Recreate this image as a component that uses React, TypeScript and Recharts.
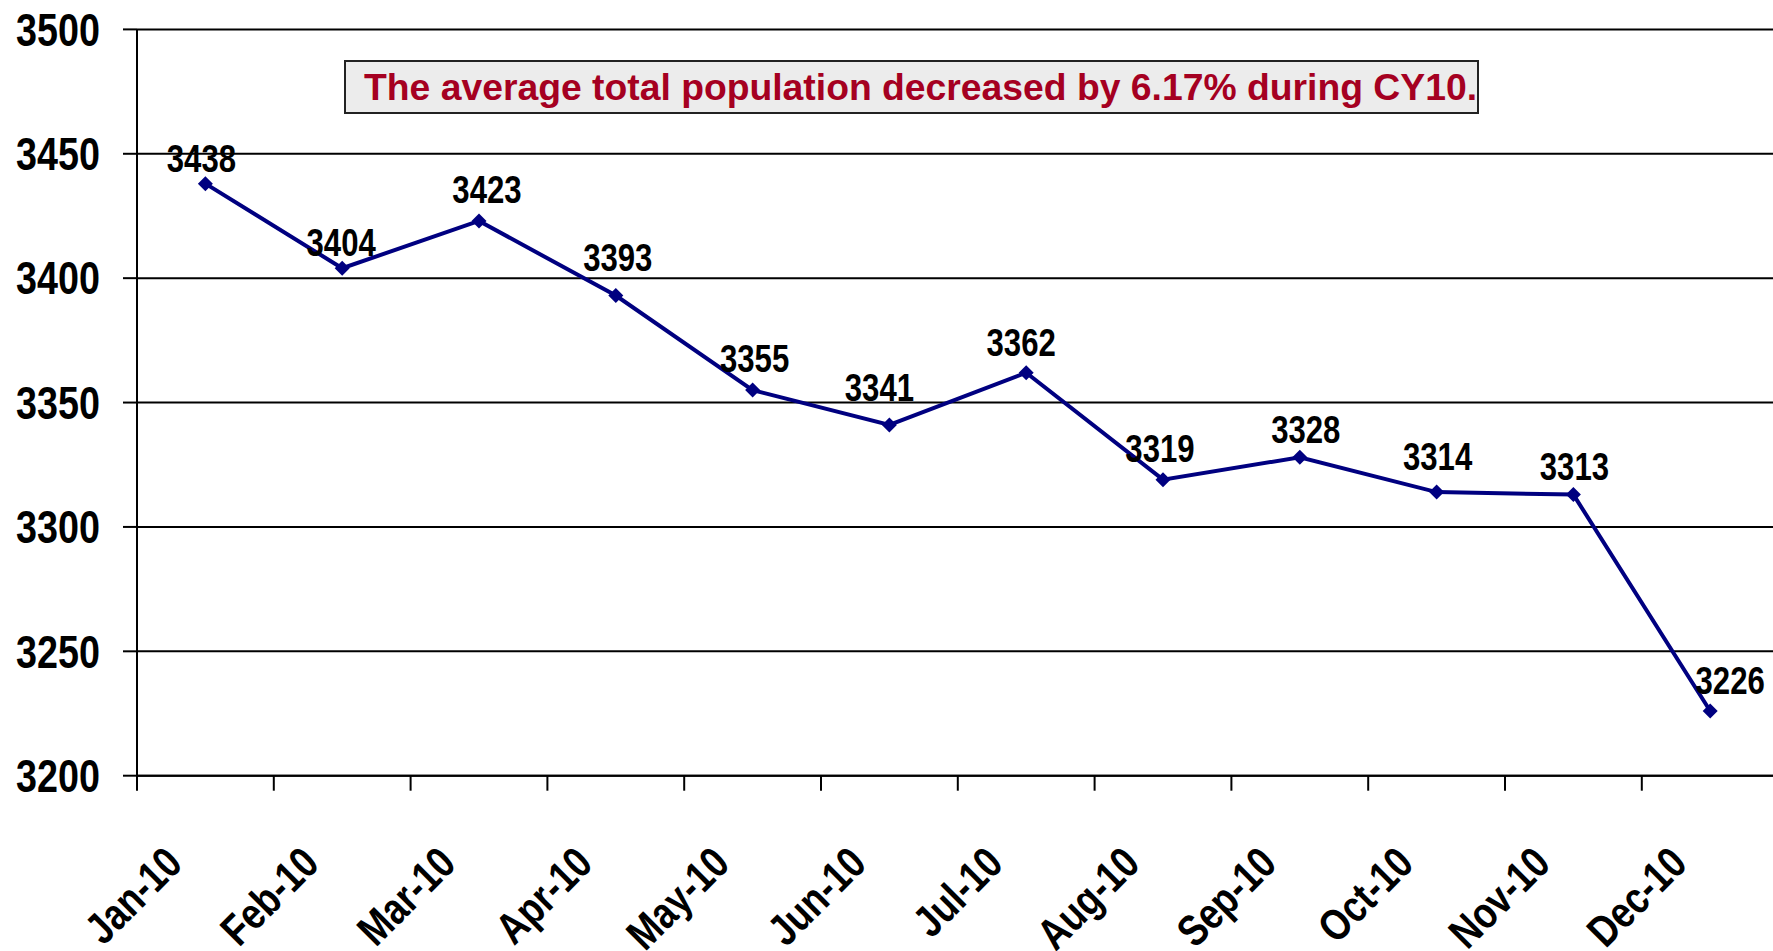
import React from 'react';
import { LineChart, Line, XAxis, YAxis, CartesianGrid, LabelList } from 'recharts';

const months = ['Jan-10', 'Feb-10', 'Mar-10', 'Apr-10', 'May-10', 'Jun-10', 'Jul-10', 'Aug-10', 'Sep-10', 'Oct-10', 'Nov-10', 'Dec-10'];
const population = [3438, 3404, 3423, 3393, 3355, 3341, 3362, 3319, 3328, 3314, 3313, 3226];
const yTicks = [3200, 3250, 3300, 3350, 3400, 3450, 3500];
const note = 'The average total population decreased by 6.17% during CY10.';

// labels in the original were nudged by hand: [dx, gap above point]
const labelNudge = [[-4, 12], [-1, 12], [8, 18], [2, 25], [2, 18], [-10, 24], [-5, 17], [-3, 18], [6, 14], [1, 22], [1, 15], [20, 17]];

// no Arial Narrow here, so squeeze Liberation Sans bold horizontally
const FONT = "'Liberation Sans', Arial, sans-serif";
const NARROW = 0.82;
const LINE_COLOR = '#000080';

// points sit in the middle of each month band, ticks on the band edges
const data = months.map((m, i) => ({ x: i + 0.5, month: m, value: population[i] }));
const xTicks = Array.from({ length: 25 }, (_, i) => i / 2);

function squeeze(x: number, y: number) {
  return `translate(${x}, ${y}) scale(${NARROW}, 1) translate(${-x}, ${-y})`;
}

function Diamond(props: any) {
  const { cx, cy } = props;
  if (cx == null || cy == null) return null;
  const r = 7.5;
  return <polygon points={`${cx},${cy - r} ${cx + r},${cy} ${cx},${cy + r} ${cx - r},${cy}`} fill={LINE_COLOR} />;
}

function PointLabel(props: any) {
  const { x, y, value, index } = props;
  const [dx, gap] = labelNudge[index] ?? [0, 15];
  const tx = x + dx;
  const ty = y - gap;
  return (
    <text x={tx} y={ty} transform={squeeze(tx, ty)} textAnchor="middle" fontFamily={FONT} fontWeight="bold" fontSize={38} fill="#000">
      {value}
    </text>
  );
}

function ValueTick(props: any) {
  const { x, y, payload } = props;
  return (
    <text x={x} y={y} dy="0.355em" transform={squeeze(x, y)} textAnchor="end" fontFamily={FONT} fontWeight="bold" fontSize={46} fill="#000">
      {payload.value}
    </text>
  );
}

function MonthTick(props: any) {
  const { x, y, payload } = props;
  const v = payload.value as number;
  if (Number.isInteger(v)) {
    return <line x1={x} y1={y} x2={x} y2={y + 15} stroke="#000" strokeWidth={2} />;
  }
  const label = months[Math.floor(v)];
  const tx = x - 21;
  const ty = y + 90;
  return (
    <text
      x={tx}
      y={ty}
      textAnchor="end"
      transform={`rotate(-45, ${tx}, ${ty}) ${squeeze(tx, ty)}`}
      fontFamily={FONT}
      fontWeight="bold"
      fontSize={44}
      fill="#000"
    >
      {label}
    </text>
  );
}

export default function App() {
  return (
    <div style={{ position: 'absolute', left: 0, top: 0, width: 1773, height: 951, overflow: 'hidden', background: '#fff' }}>
      <LineChart width={1800} height={951} data={data} margin={{ top: 29.4, right: 21.4, bottom: 5.3, left: 0 }}>
        <CartesianGrid vertical={false} stroke="#000" strokeWidth={2} />
        <XAxis
          dataKey="x"
          type="number"
          domain={[0, 12]}
          ticks={xTicks}
          interval={0}
          height={170}
          tickSize={0}
          tickMargin={0}
          tickLine={false}
          axisLine={{ stroke: '#000', strokeWidth: 2 }}
          tick={<MonthTick />}
        />
        <YAxis
          type="number"
          domain={[3200, 3500]}
          ticks={yTicks}
          interval={0}
          width={137}
          tickSize={14}
          tickMargin={23}
          axisLine={{ stroke: '#000', strokeWidth: 2 }}
          tickLine={{ stroke: '#000', strokeWidth: 2 }}
          tick={<ValueTick />}
        />
        <Line
          type="linear"
          dataKey="value"
          stroke={LINE_COLOR}
          strokeWidth={4}
          dot={<Diamond />}
          activeDot={false}
          isAnimationActive={false}
        >
          <LabelList dataKey="value" content={<PointLabel />} />
        </Line>
      </LineChart>
      <div
        style={{
          position: 'absolute',
          left: 344,
          top: 60,
          width: 1135,
          height: 54,
          boxSizing: 'border-box',
          background: '#ececec',
          border: '2px solid #222',
          fontFamily: FONT,
          fontWeight: 'bold',
          fontSize: 37.3,
          color: '#A50021',
          lineHeight: '50px',
          paddingLeft: 18,
          whiteSpace: 'nowrap',
        }}
      >
        {note}
      </div>
    </div>
  );
}
